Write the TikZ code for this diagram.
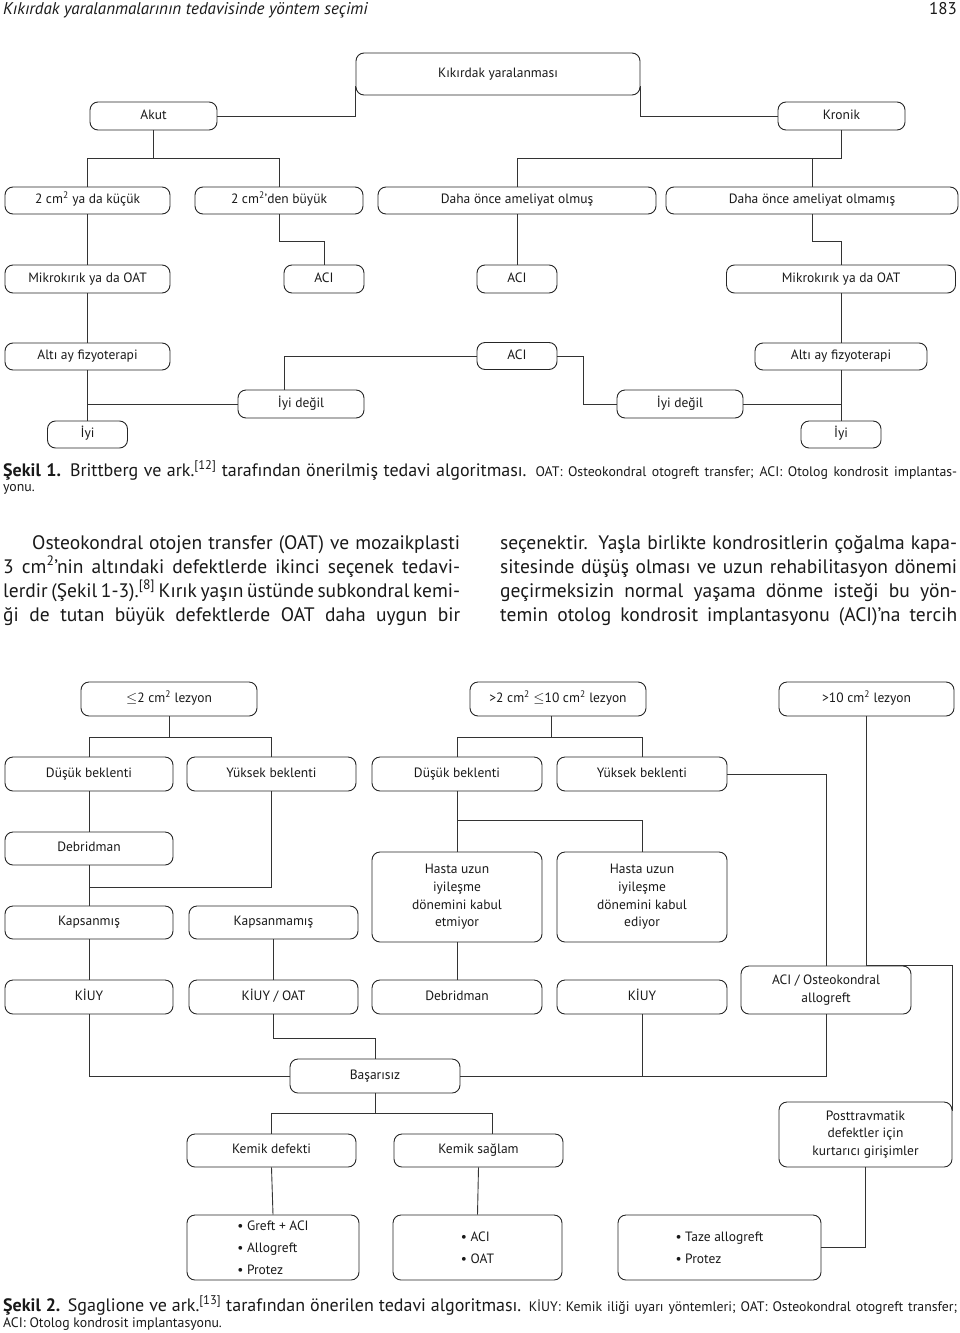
\documentclass[tikz,border=0pt]{standalone}
\usepackage{fontspec}
\setmainfont{PT Sans}

\newcommand{\kutu}{\fontsize{13.5}{17.7}\selectfont}
\newcommand{\liste}{\fontsize{13.5}{22}\selectfont}
\newcommand{\govde}{\fontsize{19.5}{24}\selectfont\spaceskip=0.25em plus 1em minus 0.12em}
\newcommand{\altyazi}{\fontsize{18}{16}\selectfont\spaceskip=0.25em plus 1em minus 0.1em}
\newcommand{\altyazikucuk}{\fontsize{13.8}{16}\selectfont}

\tikzset{
  box/.style={draw=black!85, line width=0.9pt, rounded corners=8pt, align=center, inner sep=2pt, font=\kutu, text=black!90},
  tekbox/.style={box, text height=9.5pt, text depth=3pt},
  link/.style={draw=black!80, line width=0.9pt},
  txt/.style={inner sep=0pt, anchor=base west, text=black!90}
}

\begin{document}
\begin{tikzpicture}[x=1pt, y=-1pt]
\useasboundingbox (0,0) rectangle (960,1333);

% page head
\node [txt, font=\fontsize{17}{18}\selectfont\itshape] (baslik) at (3,14) {Kıkırdak yaralanmalarının tedavisinde yöntem seçimi};
\node [txt, anchor=base east, font=\fontsize{17}{18}\selectfont] (sayfa) at (957,14) {183};

% Sekil 1
\node [tekbox, minimum width=284pt, minimum height=42pt] (yaral) at (498,74) {Kıkırdak yaralanması};
\node [tekbox, minimum width=127pt, minimum height=28pt] (akut) at (153.5,116) {Akut};
\node [tekbox, minimum width=127pt, minimum height=28pt] (kronik) at (841.5,116) {Kronik};

\node [tekbox, minimum width=165pt, minimum height=27pt] (kucuk) at (87.5,200.5) {2 cm\textsuperscript{2} ya da küçük};
\node [tekbox, minimum width=168pt, minimum height=27pt] (buyuk) at (279,200.5) {2 cm\textsuperscript{2}'den büyük};
\node [tekbox, minimum width=278pt, minimum height=27pt] (olmus) at (517,200.5) {Daha önce ameliyat olmuş};
\node [tekbox, minimum width=292pt, minimum height=27pt] (olmamis) at (812,200.5) {Daha önce ameliyat olmamış};

\node [tekbox, minimum width=165pt, minimum height=28pt] (mikroA) at (87.5,279) {Mikrokırık ya da OAT};
\node [tekbox, minimum width=80pt, minimum height=28pt] (aciA) at (324,279) {ACI};
\node [tekbox, minimum width=80pt, minimum height=28pt] (aciB) at (517,279) {ACI};
\node [tekbox, minimum width=229pt, minimum height=28pt] (mikroB) at (841,279) {Mikrokırık ya da OAT};

\node [tekbox, minimum width=165pt, minimum height=27pt] (altiA) at (87.5,356.5) {Altı ay fizyoterapi};
\node [tekbox, minimum width=80pt, minimum height=27pt] (aciC) at (517,356) {ACI};
\node [tekbox, minimum width=172pt, minimum height=27pt] (altiB) at (841,356.5) {Altı ay fizyoterapi};

\node [tekbox, minimum width=126pt, minimum height=28pt] (iyidegilA) at (301,404) {İyi değil};
\node [tekbox, minimum width=126pt, minimum height=28pt] (iyidegilB) at (680,404) {İyi değil};
\node [tekbox, minimum width=80pt, minimum height=27pt] (iyiA) at (87.5,434.5) {İyi};
\node [tekbox, minimum width=80pt, minimum height=27pt] (iyiB) at (841,434.5) {İyi};

\draw [link] (akut.east) -| ([yshift=9pt]yaral.south west);
\draw [link] (kronik.west) -| ([yshift=9pt]yaral.south east);
\draw [link] (akut.south) -- ++(0,28) coordinate (fa);
\draw [link] (kucuk.north) |- (fa) -| (buyuk.north);
\draw [link] (kronik.south) -- ++(0,28) coordinate (fk);
\draw [link] (olmus.north) |- (fk);
\draw [link] (olmamis.north) -- (olmamis.north |- fk);
\draw [link] (kucuk.south) -- (mikroA.north);
\draw [link] (buyuk.south) -- ++(0,27) -| (aciA.north);
\draw [link] (olmus.south) -- (aciB.north);
\draw [link] (olmamis.south) -- ++(0,27) -| (mikroB.north);
\draw [link] (mikroA.south) -- (altiA.north);
\draw [link] (mikroB.south) -- (altiB.north);
\draw [link] (altiA.south) -- (iyiA.north);
\draw [link] (altiB.south) -- (iyiB.north);
\draw [link] (iyidegilA.west) -- (iyidegilA.west -| altiA.south);
\draw [link] ([xshift=-17pt]iyidegilA.north) |- (aciC.west);
\draw [link] (aciC.east) -- ++(26,0) |- (iyidegilB.west);
\draw [link] (iyidegilB.east) -- (iyidegilB.east -| altiB.south);

% caption 1
\node [txt, font=\altyazi] (yazi1) at (3,476) {\hbox to 954pt{\textbf{Şekil 1.} Brittberg ve ark.\textsuperscript{[12]} tarafından önerilmiş tedavi algoritması. {\altyazikucuk OAT: Osteokondral otogreft transfer; ACI: Otolog kondrosit implantas-}}};
\node [txt, font=\altyazikucuk] (yazi1b) at (3,491) {yonu.};

% body text
\node [txt, anchor=north west, align=left, font=\govde] (solsutun) at (3,535) {%
\hbox to 457pt{\hspace*{29pt}Osteokondral otojen transfer (OAT) ve mozaikplasti}\\
\hbox to 457pt{3 cm\textsuperscript{2}'nin altındaki defektlerde ikinci seçenek tedavi-}\\
\hbox to 457pt{lerdir (Şekil 1-3).\textsuperscript{[8]} Kırık yaşın üstünde subkondral kemi-}\\
\hbox to 457pt{ği de tutan büyük defektlerde OAT daha uygun bir}};
\node [txt, anchor=north west, align=left, font=\govde] (sagsutun) at (500,535) {%
\hbox to 457pt{seçenektir. Yaşla birlikte kondrositlerin çoğalma kapa-}\\
\hbox to 457pt{sitesinde düşüş olması ve uzun rehabilitasyon dönemi}\\
\hbox to 457pt{geçirmeksizin normal yaşama dönme isteği bu yön-}\\
\hbox to 457pt{temin otolog kondrosit implantasyonu (ACI)'na tercih}};

% Sekil 2
\node [tekbox, minimum width=176pt, minimum height=34pt] (lezA) at (169,699) {$\leq$2 cm\textsuperscript{2} lezyon};
\node [tekbox, minimum width=176pt, minimum height=34pt] (lezB) at (558,699) {>2 cm\textsuperscript{2} $\leq$10 cm\textsuperscript{2} lezyon};
\node [tekbox, minimum width=175pt, minimum height=34pt] (lezC) at (866.5,699) {>10 cm\textsuperscript{2} lezyon};

\node [tekbox, minimum width=168pt, minimum height=34pt] (dusukA) at (89,774) {Düşük beklenti};
\node [tekbox, minimum width=169pt, minimum height=34pt] (yuksekA) at (271.5,774) {Yüksek beklenti};
\node [tekbox, minimum width=170pt, minimum height=34pt] (dusukB) at (457,774) {Düşük beklenti};
\node [tekbox, minimum width=170pt, minimum height=34pt] (yuksekB) at (642,774) {Yüksek beklenti};

\node [tekbox, minimum width=168pt, minimum height=33pt] (debA) at (89,848.5) {Debridman};
\node [tekbox, minimum width=168pt, minimum height=33pt] (kapsA) at (89,922.5) {Kapsanmış};
\node [tekbox, minimum width=169pt, minimum height=33pt] (kapsB) at (273.5,922.5) {Kapsanmamış};
\node [box, minimum width=170pt, minimum height=90pt] (hastaA) at (457,897) {Hasta uzun\\iyileşme\\dönemini kabul\\etmiyor};
\node [box, minimum width=170pt, minimum height=90pt] (hastaB) at (642,897) {Hasta uzun\\iyileşme\\dönemini kabul\\ediyor};

\node [tekbox, minimum width=168pt, minimum height=34pt] (kiuyA) at (89,997) {KİUY};
\node [tekbox, minimum width=169pt, minimum height=34pt] (kiuyoat) at (273.5,997) {KİUY / OAT};
\node [tekbox, minimum width=170pt, minimum height=34pt] (debB) at (457,997) {Debridman};
\node [tekbox, minimum width=170pt, minimum height=34pt] (kiuyB) at (642,997) {KİUY};
\node [box, minimum width=170pt, minimum height=48pt] (aciOst) at (826,990) {ACI / Osteokondral\\allogreft};

\node [tekbox, minimum width=170pt, minimum height=34pt] (basarisiz) at (375,1076) {Başarısız};
\node [tekbox, minimum width=169pt, minimum height=33pt] (kemikA) at (271.5,1150.5) {Kemik defekti};
\node [tekbox, minimum width=169pt, minimum height=33pt] (kemikB) at (478.5,1150.5) {Kemik sağlam};
\node [box, minimum width=173pt, minimum height=65pt] (post) at (865.5,1134.5) {Posttravmatik\\defektler için\\kurtarıcı girişimler};

\node [box, align=left, font=\liste, minimum width=172pt, minimum height=65pt] (listA) at (273,1247.5) {\textbullet\ Greft + ACI\\\textbullet\ Allogreft\\\textbullet\ Protez};
\node [box, align=left, font=\liste, minimum width=169pt, minimum height=65pt] (listB) at (477.5,1247.5) {\textbullet\ ACI\\\textbullet\ OAT};
\node [box, align=left, font=\liste, minimum width=203pt, minimum height=65pt] (listC) at (719.5,1247.5) {\textbullet\ Taze allogreft\\\textbullet\ Protez};

\draw [link] (lezA.south) -- ++(0,21) coordinate (fl1);
\draw [link] (dusukA.north) |- (fl1) -| (yuksekA.north);
\draw [link] ([xshift=-7pt]lezB.south) -- ++(0,21) coordinate (fl2);
\draw [link] (dusukB.north) |- (fl2) -| (yuksekB.north);
\draw [link] (lezC.south) -- (lezC.south |- aciOst.north) -| ([yshift=-9pt]post.north east);
\draw [link] (yuksekB.east) -| (aciOst.north);
\draw [link] (dusukA.south) -- (debA.north);
\draw [link] (yuksekA.south) -- ++(0,96) -| (debA.south);
\draw [link] (debA.south) -- (kapsA.north);
\draw [link] (dusukB.south) -- ++(0,29) coordinate (fd);
\draw [link] (hastaA.north) |- (fd) -| (hastaB.north);
\draw [link] (kapsA.south) -- (kiuyA.north);
\draw [link] (kapsB.south) -- (kiuyoat.north);
\draw [link] (hastaA.south) -- (debB.north);
\draw [link] (kiuyA.south) |- (basarisiz.west);
\draw [link] (kiuyoat.south) -- ++(0,24) -| (basarisiz.north);
\draw [link] (aciOst.south) |- (basarisiz.east);
\draw [link] (kiuyB.south) -- (kiuyB.south |- basarisiz.east);
\draw [link] (basarisiz.south) -- ++(0,20) coordinate (fb);
\draw [link] (kemikA.north) |- (fb) -| ([xshift=14pt]kemikB.north);
\draw [link] (kemikA.south) -- (listA.north);
\draw [link] (kemikB.south) -- (listB.north);
\draw [link] (post.south) |- (listC.east);

% caption 2
\node [txt, font=\altyazi] (yazi2) at (3,1311) {\hbox to 954pt{\textbf{Şekil 2.} Sgaglione ve ark.\textsuperscript{[13]} tarafından önerilen tedavi algoritması. {\altyazikucuk KİUY: Kemik iliği uyarı yöntemleri; OAT: Osteokondral otogreft transfer;}}};
\node [txt, font=\altyazikucuk] (yazi2b) at (3,1327) {ACI: Otolog kondrosit implantasyonu.};
\end{tikzpicture}
\end{document}
